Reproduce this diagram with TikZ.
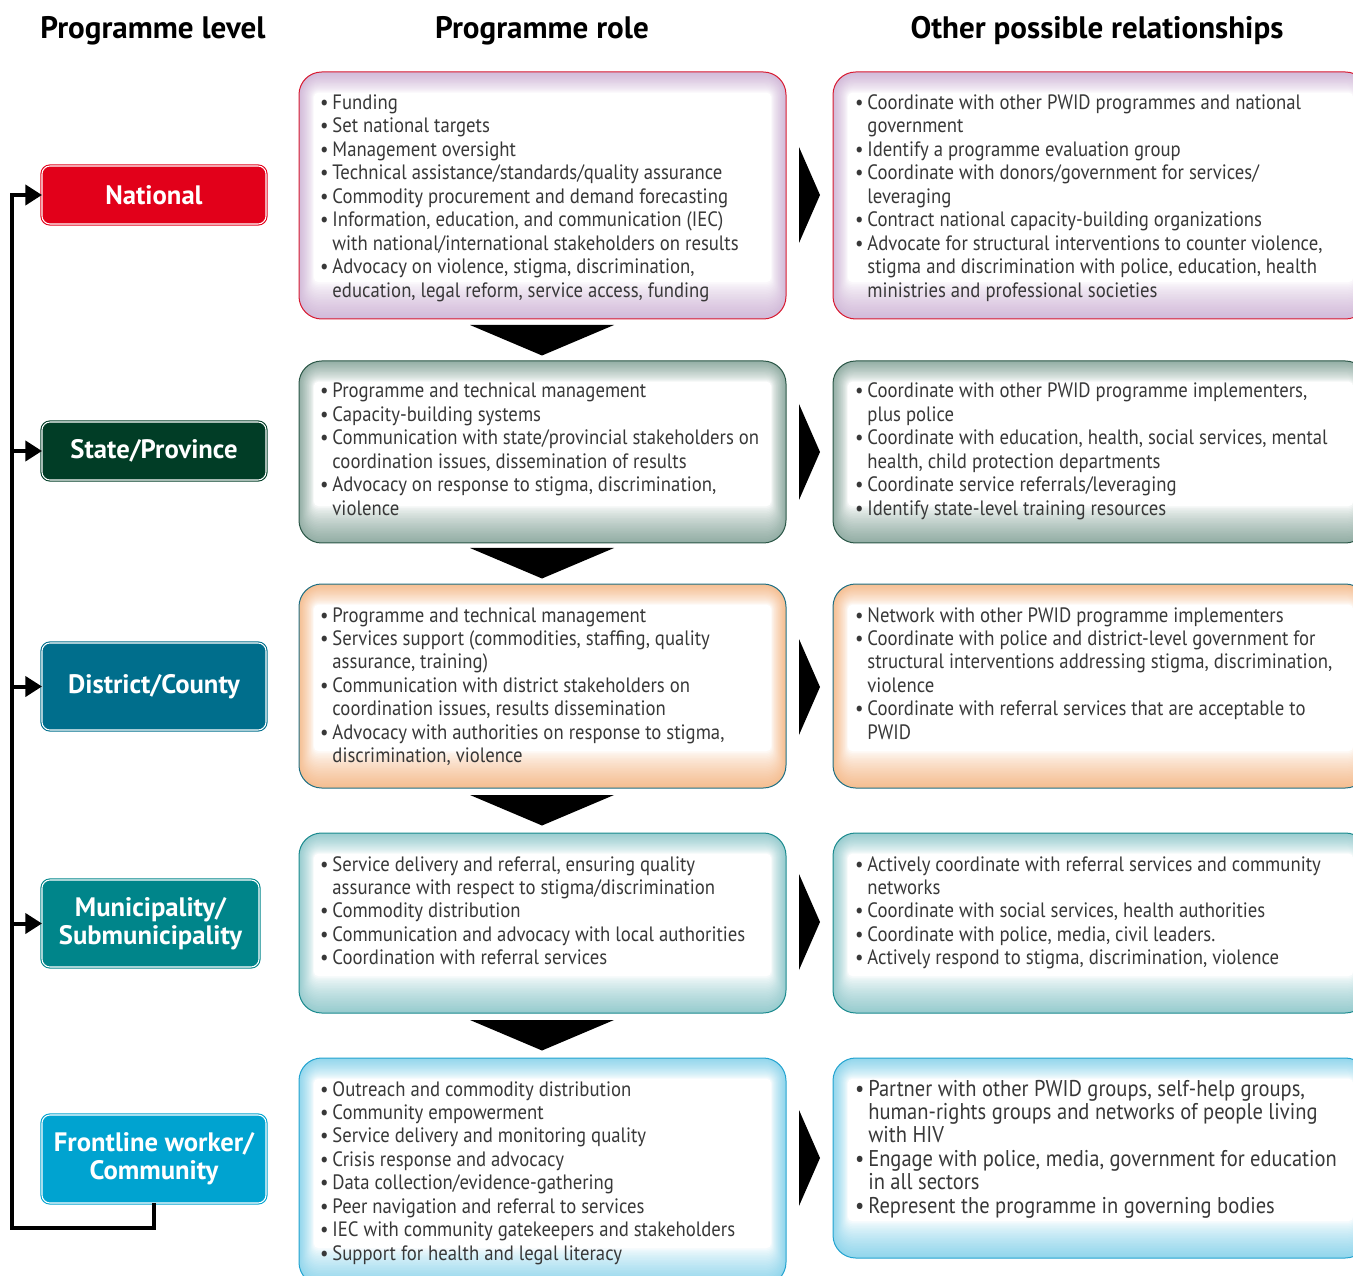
\documentclass[tikz,border=0pt]{standalone}
\usepackage{fontspec}
\setmainfont{PT Sans}
\newfontfamily\bodyf[FakeStretch=0.9]{PT Sans}
\usetikzlibrary{arrows.meta}
\definecolor{cNat}{HTML}{E2001A}
\definecolor{cSta}{HTML}{013D26}
\definecolor{cDis}{HTML}{006E8C}
\definecolor{cMun}{HTML}{00858A}
\definecolor{cFro}{HTML}{00A3D0}
\definecolor{gNat}{HTML}{D2BAD9}
\definecolor{gSta}{HTML}{93AEA5}
\definecolor{gDis}{HTML}{F5BE92}
\definecolor{gMun}{HTML}{98CCCF}
\definecolor{gFro}{HTML}{92D6EC}
\definecolor{bNat}{HTML}{D81A30}
\definecolor{bSta}{HTML}{2A5646}
\definecolor{bDis}{HTML}{1E6F84}
\definecolor{bMun}{HTML}{1A8A8E}
\definecolor{bFro}{HTML}{22A3D0}
\newcommand\glow[1]{%
  \foreach \i in {0,...,22}{%
    \pgfmathtruncatemacro\glowpc{100*(1-\i/22)^0.7}%
    \pgfmathsetmacro\glowrr{max(17-\i*0.6,3)}%
    \fill[#1!\glowpc!white, rounded corners=\glowrr pt]
      ([xshift=\i*0.5pt, yshift=-\i*0.7pt]path picture bounding box.north west)
      rectangle ([xshift=-\i*0.5pt, yshift=\i*1.25pt]path picture bounding box.south east);
  }}
\newcommand\blist[1]{\begin{tabular}[t]{@{}l@{\hspace{3pt}}l@{}}#1\end{tabular}}
\newcommand\bul{\textbullet}
\tikzset{
  gbox/.style 2 args={draw=#2, line width=0.75pt, rounded corners=17pt, fill=white,
    inner sep=0pt, outer sep=0pt, anchor=north west, path picture={\glow{#1}}},
  lvl/.style={fill=#1, draw=white, line width=0.8pt, rounded corners=6pt,
    preaction={draw=#1, line width=2.4pt}, text=white,
    font=\bfseries\fontsize{20}{21}\selectfont, align=center,
    inner sep=0pt, outer sep=0pt, anchor=north west},
  txt/.style={anchor=base west, inner sep=0pt, outer sep=0pt, text=black!78,
    font=\bodyf\fontsize{15.6}{17.6}\selectfont},
  txtbig/.style={txt, font=\bodyf\fontsize{17.1}{17.6}\selectfont},
  hdr/.style={anchor=base, inner sep=0pt, font=\bfseries\fontsize{23.3}{25}\selectfont},
  flow/.style={line width=3pt, -{Triangle[length=12.5pt,width=15pt]}},
  tri/.style={fill=black},
}
\begin{document}
\begin{tikzpicture}[x=0.75pt, y=-0.75pt]
\useasboundingbox (0,0) rectangle (1353,1276);
\clip (0,0) rectangle (1353,1276);
% headers
\node[hdr] (h1) at (153,38.5) {Programme level};
\node[hdr] (h2) at (542,38.5) {Programme role};
\node[hdr] (h3) at (1097,38.5) {Other possible relationships};
% level boxes
\node[lvl=cNat, minimum width=168pt, minimum height=43.5pt] (nat) at (42,166) {National};
\node[lvl=cSta, minimum width=168pt, minimum height=43.5pt] (sta) at (42,422) {State/Province};
\node[lvl=cDis, minimum width=168pt, minimum height=65.25pt] (dis) at (42,643) {District/County};
\node[lvl=cMun, minimum width=162.75pt, minimum height=65.25pt] (mun) at (42,880) {Municipality/\\Submunicipality};
\node[lvl=cFro, minimum width=168pt, minimum height=66pt] (fro) at (42,1115) {Frontline worker/\\Community};
% connectors on the left
\coordinate (ct) at (12,195);
\coordinate (cb) at (12,1228);
\draw[flow] (fro.south) |- (cb) -- (ct) -- (nat.west);
\draw[flow] (ct |- sta.west) -- (sta.west);
\draw[flow] (ct |- dis.west) -- (dis.west);
\draw[flow] (ct |- mun.west) -- (mun.west);
% role boxes
\node[gbox={gNat}{bNat}, minimum width=365.25pt, minimum height=185.25pt] (m1) at (299,72) {};
\node[gbox={gSta}{bSta}, minimum width=365.25pt, minimum height=136.5pt] (m2) at (299,361) {};
\node[gbox={gDis}{bDis}, minimum width=365.25pt, minimum height=153pt] (m3) at (299,584) {};
\node[gbox={gMun}{bMun}, minimum width=365.25pt, minimum height=135pt] (m4) at (299,833) {};
\node[gbox={gFro}{bFro}, minimum width=365.25pt, minimum height=170.25pt] (m5) at (299,1058) {};
% relationship boxes
\node[gbox={gNat}{bNat}, minimum width=401.25pt, minimum height=185.25pt] (r1) at (833,72) {};
\node[gbox={gSta}{bSta}, minimum width=401.25pt, minimum height=136.5pt] (r2) at (833,361) {};
\node[gbox={gDis}{bDis}, minimum width=401.25pt, minimum height=153pt] (r3) at (833,584) {};
\node[gbox={gMun}{bMun}, minimum width=401.25pt, minimum height=135pt] (r4) at (833,833) {};
\node[gbox={gFro}{bFro}, minimum width=401.25pt, minimum height=150pt] (r5) at (833,1058) {};
% down triangles
\foreach \t in {325,548,795,1020}{\fill[tri] (470,\t) -- (614,\t) -- (542,\t+30.5) -- cycle;}
% right triangles
\foreach \c in {195,452,687,922,1158}{\fill[tri] (799,\c-48) -- (820,\c) -- (799,\c+48) -- cycle;}
% texts
\node[txt] (t1m) at (320,109.5) {\blist{%
\bul & Funding\\
\bul & Set national targets\\
\bul & Management oversight\\
\bul & Technical assistance/standards/quality assurance\\
\bul & Commodity procurement and demand forecasting\\
\bul & Information, education, and  communication (IEC)\\
 & with national/international stakeholders on results\\
\bul & Advocacy on violence, stigma, discrimination,\\
 & education, legal reform, service access, funding}};
\node[txt] (t1r) at (855,109.5) {\blist{%
\bul & Coordinate with other PWID programmes and national\\
 & government\\
\bul & Identify a programme evaluation group\\
\bul & Coordinate with donors/government for services/\\
 & leveraging\\
\bul & Contract national capacity-building organizations\\
\bul & Advocate for structural interventions to counter violence,\\
 & stigma and discrimination with police, education, health\\
 & ministries and professional societies}};
\node[txt] (t2m) at (320,398) {\blist{%
\bul & Programme and technical management\\
\bul & Capacity-building systems\\
\bul & Communication with state/provincial stakeholders on\\
 & coordination issues, dissemination of results\\
\bul & Advocacy on response to stigma, discrimination,\\
 & violence}};
\node[txt] (t2r) at (855,398) {\blist{%
\bul & Coordinate with other PWID programme implementers,\\
 & plus police\\
\bul & Coordinate with education, health, social services, mental\\
 & health, child protection departments\\
\bul & Coordinate service referrals/leveraging\\
\bul & Identify state-level training resources}};
\node[txt] (t3m) at (320,622) {\blist{%
\bul & Programme and technical management\\
\bul & Services support (commodities, staffing, quality\\
 & assurance, training)\\
\bul & Communication with district stakeholders on\\
 & coordination issues, results dissemination\\
\bul & Advocacy with authorities on response to stigma,\\
 & discrimination, violence}};
\node[txt] (t3r) at (855,622) {\blist{%
\bul & Network with other PWID programme implementers\\
\bul & Coordinate with police and district-level government for\\
 & structural interventions addressing stigma, discrimination,\\
 & violence\\
\bul & Coordinate with referral services that are acceptable to\\
 & PWID}};
\node[txt] (t4m) at (320,871) {\blist{%
\bul & Service delivery and referral, ensuring quality\\
 & assurance with respect to stigma/discrimination\\
\bul & Commodity distribution\\
\bul & Communication and advocacy with local authorities\\
\bul & Coordination with referral services}};
\node[txt] (t4r) at (855,871) {\blist{%
\bul & Actively coordinate with referral services and community\\
 & networks\\
\bul & Coordinate with social services, health authorities\\
\bul & Coordinate with police, media, civil leaders.\\
\bul & Actively respond to stigma, discrimination, violence}};
\node[txt] (t5m) at (320,1096) {\blist{%
\bul & Outreach and commodity distribution\\
\bul & Community empowerment\\
\bul & Service delivery and monitoring quality\\
\bul & Crisis response and advocacy\\
\bul & Data collection/evidence-gathering\\
\bul & Peer navigation and referral to services\\
\bul & IEC with community gatekeepers and stakeholders\\
\bul & Support for health and legal literacy}};
\node[txtbig] (t5r) at (855,1096) {\blist{%
\bul & Partner with other PWID groups, self-help groups,\\
 & human-rights groups and networks of people living\\
 & with HIV\\
\bul & Engage with police, media, government for education\\
 & in all sectors\\
\bul & Represent the programme in governing bodies}};
\end{tikzpicture}
\end{document}
